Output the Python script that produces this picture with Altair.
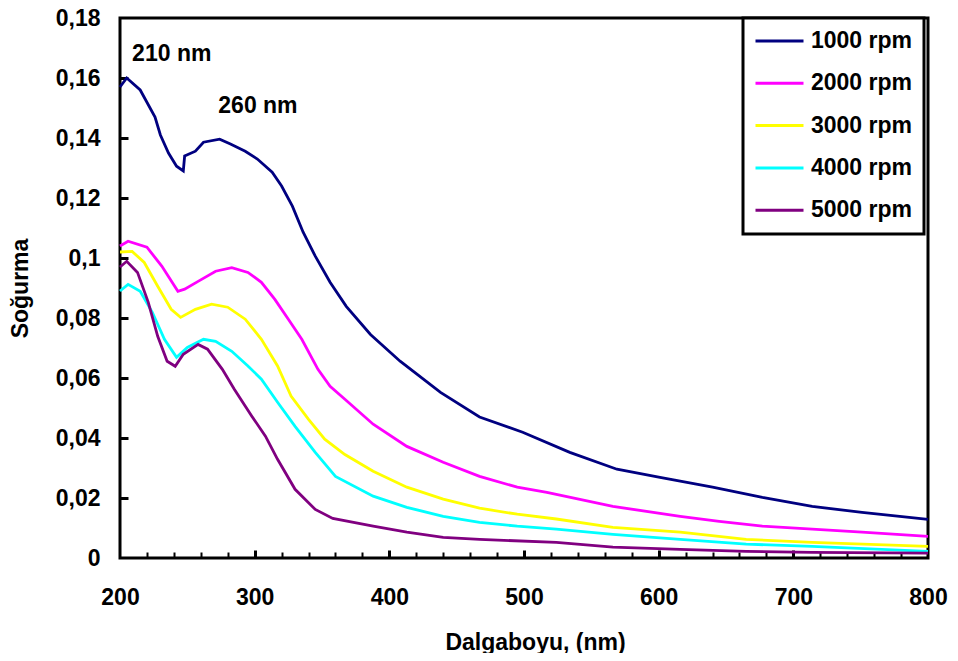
import altair as alt
import pandas as pd

series = ["1000 rpm", "2000 rpm", "3000 rpm", "4000 rpm", "5000 rpm"]
colors = ["#000080", "#FF00FF", "#FFFF00", "#00FFFF", "#800080"]

wl_1000 = [200, 205, 215, 226, 230, 236, 242, 247, 248, 256, 262, 274, 282, 293, 302, 313, 320, 328, 336, 345,
           356, 368, 386, 408, 438, 467, 499, 534, 569, 601, 640, 677, 714, 751, 800]
abs_1000 = [0.157, 0.160, 0.156, 0.147, 0.141, 0.135, 0.1306, 0.129, 0.134, 0.1356, 0.1386, 0.1396, 0.138, 0.1356,
            0.133, 0.1286, 0.124, 0.1173, 0.1086, 0.1006, 0.0919, 0.0839, 0.0745, 0.0656, 0.0552, 0.047, 0.0419,
            0.0352, 0.0296, 0.0269, 0.0236, 0.0202, 0.0172, 0.0152, 0.0129]

wl_2000 = [200, 206, 220, 231, 243, 248, 258, 271, 283, 295, 305, 315, 325, 335, 347, 356, 367, 388, 413, 440,
           467, 495, 517, 566, 616, 645, 677, 714, 751, 800]
abs_2000 = [0.104, 0.1056, 0.1036, 0.0973, 0.0889, 0.0896, 0.0922, 0.0956, 0.0968, 0.0952, 0.0919, 0.0862,
            0.0796, 0.0729, 0.0629, 0.0572, 0.0529, 0.0446, 0.0372, 0.0319, 0.0272, 0.0236, 0.0219, 0.0172,
            0.0139, 0.0122, 0.0106, 0.0096, 0.0086, 0.0072]

wl_3000 = [200, 209, 218, 228, 238, 245, 256, 268, 280, 293, 305, 317, 327, 340, 352, 367, 388, 413, 440, 467,
           495, 524, 566, 616, 665, 714, 800]
abs_3000 = [0.102, 0.1022, 0.0985, 0.0906, 0.0829, 0.0802, 0.0829, 0.0846, 0.0836, 0.0796, 0.0729, 0.064, 0.054,
            0.0462, 0.0396, 0.0345, 0.0289, 0.0236, 0.0196, 0.0166, 0.0146, 0.013, 0.0102, 0.0086, 0.0062, 0.0052,
            0.0039]

wl_4000 = [200, 206, 215, 224, 233, 242, 250, 262, 271, 283, 295, 305, 317, 330, 345, 360, 388, 413, 440, 467,
           495, 524, 566, 616, 665, 714, 800]
abs_4000 = [0.089, 0.0912, 0.0889, 0.0819, 0.0729, 0.0669, 0.0702, 0.0729, 0.0722, 0.0689, 0.064, 0.0596, 0.0519,
            0.0439, 0.0352, 0.0272, 0.0206, 0.0169, 0.0139, 0.0119, 0.0106, 0.0096, 0.0079, 0.0062, 0.0046,
            0.0039, 0.0022]

wl_5000 = [200, 205, 213, 221, 228, 235, 241, 247, 258, 265, 276, 285, 298, 308, 317, 330, 345, 358, 388, 413,
           440, 467, 524, 566, 616, 665, 714, 800]
abs_5000 = [0.097, 0.0989, 0.0952, 0.0852, 0.0739, 0.0656, 0.0639, 0.0679, 0.0712, 0.0696, 0.0629, 0.0562,
            0.0472, 0.0406, 0.0329, 0.0229, 0.0162, 0.0132, 0.0106, 0.0086, 0.0069, 0.0062, 0.0052, 0.0036,
            0.0029, 0.0022, 0.0019, 0.0016]

x_labels = [200, 300, 400, 500, 600, 700, 800]
x_major_ticks = [300, 400, 500, 600, 700]
x_minor_ticks = [220, 240, 260, 280, 320, 340, 360, 380, 420, 440, 460, 480, 520, 540, 560, 580,
                 620, 640, 660, 680, 720, 740, 760, 780]
y_labels = [0, 0.02, 0.04, 0.06, 0.08, 0.1, 0.12, 0.14, 0.16, 0.18]
y_ticks = [0.02, 0.04, 0.06, 0.08, 0.1, 0.12, 0.14, 0.16]

ann_text = ["210 nm", "260 nm"]
ann_x = [209, 273]
ann_y = [0.168, 0.1507]

rows = []
for name, wl, ab in zip(series, [wl_1000, wl_2000, wl_3000, wl_4000, wl_5000],
                        [abs_1000, abs_2000, abs_3000, abs_4000, abs_5000]):
    for w, a in zip(wl, ab):
        rows.append({"series": name, "wl": w, "abs": a})
df = pd.DataFrame(rows)
ann = pd.DataFrame({"t": ann_text, "x": ann_x, "y": ann_y})

FONT = "Liberation Sans"
xscale = alt.Scale(domain=[200, 800], nice=False, zero=False)
yscale = alt.Scale(domain=[0, 0.18], nice=False, zero=False)

lines = alt.Chart(df).mark_line(strokeWidth=2.8).encode(
    x=alt.X("wl:Q", scale=xscale,
            axis=alt.Axis(orient="bottom", values=x_labels, title="Dalgaboyu, (nm)", ticks=False, domain=False,
                          grid=False, labelPadding=28, labelFlush=False, labelOverlap=False,
                          titleX=415, titleY=84, titleBaseline="middle", titleAlign="center")),
    y=alt.Y("abs:Q", scale=yscale,
            axis=alt.Axis(orient="left", values=y_labels, title="Soğurma", ticks=False, domain=False, grid=False,
                          labelPadding=20, labelFlush=False, labelOverlap=False,
                          labelExpr="replace(format(datum.value, '.2~f'), '.', ',')",
                          titleX=-100, titleY=270, titleBaseline="middle", titleAlign="center", titleAngle=270)),
    color=alt.Color("series:N", scale=alt.Scale(domain=series, range=colors),
                    legend=alt.Legend(title=None, orient="none", legendX=623, legendY=0, symbolType="stroke",
                                      symbolSize=2304, symbolStrokeWidth=3, labelFontSize=23, labelFont=FONT,
                                      labelFontWeight="bold", labelColor="black", padding=11, rowPadding=18.3,
                                      clipHeight=24, labelOffset=6, strokeColor="black", fillColor="white")),
)

xmaj = alt.Chart(df).mark_line(opacity=0).encode(
    x=alt.X("wl:Q", scale=xscale,
            axis=alt.Axis(orient="bottom", values=x_major_ticks, offset=-8, tickSize=8, tickWidth=3,
                          tickColor="black", domain=False, labels=False, title=None, grid=False)),
    y=alt.Y("abs:Q", scale=yscale, axis=None),
)
xmin = alt.Chart(df).mark_line(opacity=0).encode(
    x=alt.X("wl:Q", scale=xscale,
            axis=alt.Axis(orient="bottom", values=x_minor_ticks, offset=-6, tickSize=6, tickWidth=2,
                          tickColor="black", domain=False, labels=False, title=None, grid=False)),
    y=alt.Y("abs:Q", scale=yscale, axis=None),
)
ymaj = alt.Chart(df).mark_line(opacity=0).encode(
    x=alt.X("wl:Q", scale=xscale, axis=None),
    y=alt.Y("abs:Q", scale=yscale,
            axis=alt.Axis(orient="left", values=y_ticks, offset=-8, tickSize=8, tickWidth=3,
                          tickColor="black", domain=False, labels=False, title=None, grid=False)),
)

texts = alt.Chart(ann).mark_text(align="left", baseline="middle", font=FONT, fontSize=23,
                                 fontWeight="bold", color="black").encode(
    x=alt.X("x:Q", scale=xscale, axis=None),
    y=alt.Y("y:Q", scale=yscale, axis=None),
    text="t:N",
)

chart = alt.layer(lines, xmaj, xmin, ymaj, texts).resolve_axis(
    x="independent", y="independent"
).properties(
    width=808, height=540,
    autosize=alt.AutoSizeParams(type="none"),
    padding={"left": 112, "top": 10, "right": 22, "bottom": 95},
).configure_view(
    stroke="black", strokeWidth=3
).configure_axis(
    labelFont=FONT, labelFontSize=23, labelFontWeight="bold", labelColor="black",
    titleFont=FONT, titleFontSize=23, titleFontWeight="bold", titleColor="black",
).configure_legend(
    strokeWidth=3
)

chart.save("out.html", embed_options={"renderer": "svg", "actions": False})
